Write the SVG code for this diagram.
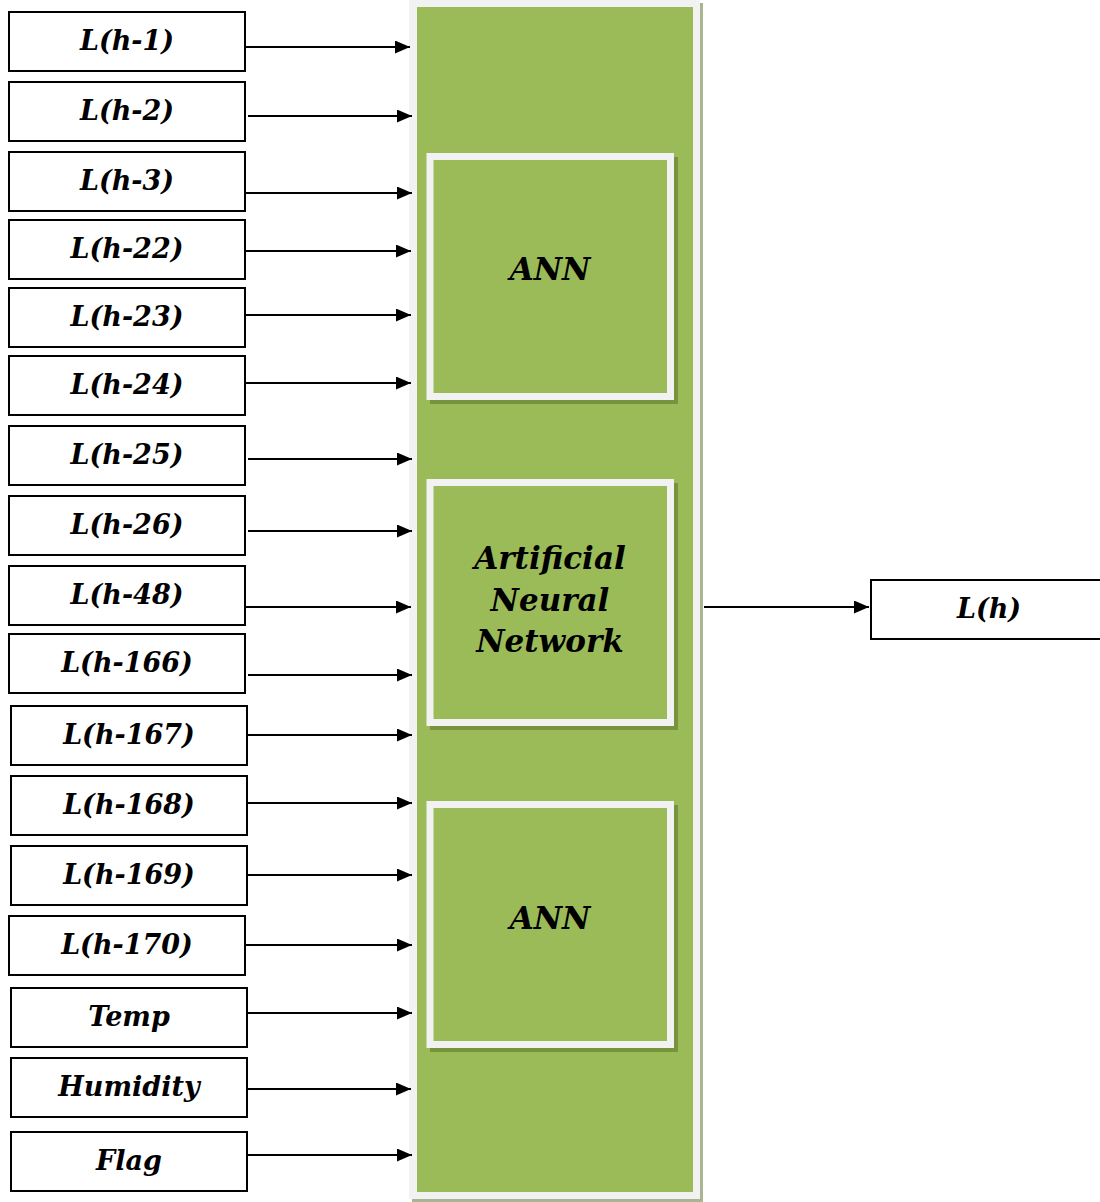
<svg xmlns="http://www.w3.org/2000/svg" width="1100" height="1202" viewBox="0 0 1100 1202">
<defs>
<marker id="ah" markerWidth="15" markerHeight="13" refX="15" refY="6.5" orient="auto" markerUnits="userSpaceOnUse">
<path d="M0,0 L15,6.5 L0,13 Z" fill="#000"/>
</marker>
</defs>
<style>
.in{fill:#fff;stroke:#000;stroke-width:2}
.t{font-family:"DejaVu Serif","Liberation Serif",serif;font-weight:bold;font-style:italic;font-size:27px;text-anchor:middle;fill:#000}
.big{font-family:"DejaVu Serif","Liberation Serif",serif;font-weight:bold;font-style:italic;font-size:31px;text-anchor:middle;fill:#000}
.c{stroke:#000;stroke-width:2;fill:none;marker-end:url(#ah)}
.sh{fill:#77933c}
.box{fill:#9bbb59;stroke:#f2f2f2;stroke-width:7}
</style>
<rect width="1100" height="1202" fill="#fff"/>
<g id="ann-column">
<rect x="412" y="3" width="291" height="1199" fill="#a9b591"/>
<rect x="409" y="0" width="291" height="1199" fill="#f2f2f2"/>
<rect x="417" y="7" width="276" height="1185" fill="#9bbb59"/>
</g>
<g id="ann-top">
<rect x="430" y="157" width="248" height="247" class="sh"/>
<rect x="430" y="156.5" width="240.5" height="240" class="box"/>
<text x="550" y="280" class="big">ANN</text>
</g>
<g id="ann-middle">
<rect x="430" y="483" width="248" height="247" class="sh"/>
<rect x="430" y="482.5" width="240.5" height="240" class="box"/>
<text x="550" y="569" class="big">Artificial</text>
<text x="550" y="611" class="big">Neural</text>
<text x="550" y="652" class="big">Network</text>
</g>
<g id="ann-bottom">
<rect x="430" y="805" width="248" height="247" class="sh"/>
<rect x="430" y="804.5" width="240.5" height="240" class="box"/>
<text x="550" y="929" class="big">ANN</text>
</g>
<g id="in1"><rect x="9" y="12" width="236" height="59" class="in"/><text x="127" y="50" class="t">L(h-1)</text></g>
<g id="in2"><rect x="9" y="82" width="236" height="59" class="in"/><text x="127" y="120" class="t">L(h-2)</text></g>
<g id="in3"><rect x="9" y="152" width="236" height="59" class="in"/><text x="127" y="190" class="t">L(h-3)</text></g>
<g id="in4"><rect x="9" y="220" width="236" height="59" class="in"/><text x="127" y="258" class="t">L(h-22)</text></g>
<g id="in5"><rect x="9" y="288" width="236" height="59" class="in"/><text x="127" y="326" class="t">L(h-23)</text></g>
<g id="in6"><rect x="9" y="356" width="236" height="59" class="in"/><text x="127" y="394" class="t">L(h-24)</text></g>
<g id="in7"><rect x="9" y="426" width="236" height="59" class="in"/><text x="127" y="464" class="t">L(h-25)</text></g>
<g id="in8"><rect x="9" y="496" width="236" height="59" class="in"/><text x="127" y="534" class="t">L(h-26)</text></g>
<g id="in9"><rect x="9" y="566" width="236" height="59" class="in"/><text x="127" y="604" class="t">L(h-48)</text></g>
<g id="in10"><rect x="9" y="634" width="236" height="59" class="in"/><text x="127" y="672" class="t">L(h-166)</text></g>
<g id="in11"><rect x="11" y="706" width="236" height="59" class="in"/><text x="129" y="744" class="t">L(h-167)</text></g>
<g id="in12"><rect x="11" y="776" width="236" height="59" class="in"/><text x="129" y="814" class="t">L(h-168)</text></g>
<g id="in13"><rect x="11" y="846" width="236" height="59" class="in"/><text x="129" y="884" class="t">L(h-169)</text></g>
<g id="in14"><rect x="9" y="916" width="236" height="59" class="in"/><text x="127" y="954" class="t">L(h-170)</text></g>
<g id="in15"><rect x="11" y="988" width="236" height="59" class="in"/><text x="129" y="1026" class="t">Temp</text></g>
<g id="in16"><rect x="11" y="1058" width="236" height="59" class="in"/><text x="129" y="1096" class="t">Humidity</text></g>
<g id="in17"><rect x="11" y="1132" width="236" height="59" class="in"/><text x="129" y="1170" class="t">Flag</text></g>
<g id="out"><rect x="871" y="580" width="240" height="59" class="in"/><text x="989" y="618" class="t">L(h)</text></g>
<g id="connectors">
<line x1="245" y1="47" x2="410" y2="47" class="c"/>
<line x1="248" y1="116" x2="412" y2="116" class="c"/>
<line x1="246" y1="193" x2="412" y2="193" class="c"/>
<line x1="245" y1="251" x2="411" y2="251" class="c"/>
<line x1="245" y1="315" x2="411" y2="315" class="c"/>
<line x1="245" y1="383" x2="411" y2="383" class="c"/>
<line x1="248" y1="459" x2="412" y2="459" class="c"/>
<line x1="248" y1="531" x2="412" y2="531" class="c"/>
<line x1="245" y1="607" x2="411" y2="607" class="c"/>
<line x1="248" y1="675" x2="412" y2="675" class="c"/>
<line x1="247" y1="735" x2="412" y2="735" class="c"/>
<line x1="247" y1="803" x2="412" y2="803" class="c"/>
<line x1="247" y1="875" x2="412" y2="875" class="c"/>
<line x1="245" y1="945" x2="412" y2="945" class="c"/>
<line x1="247" y1="1013" x2="412" y2="1013" class="c"/>
<line x1="247" y1="1089" x2="411" y2="1089" class="c"/>
<line x1="247" y1="1155" x2="412" y2="1155" class="c"/>
<line x1="704" y1="607" x2="869" y2="607" class="c"/>
</g>
</svg>
